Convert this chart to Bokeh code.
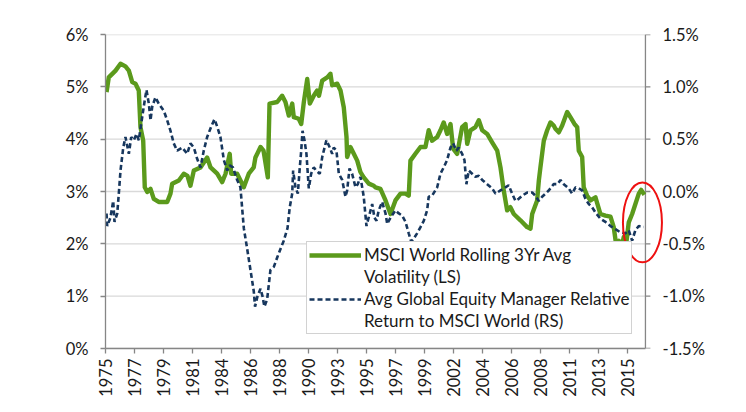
import math
from bokeh.plotting import figure
from bokeh.models import (Range1d, LinearAxis, FixedTicker, Legend, LegendItem,
                          PrintfTickFormatter, CustomJSTickFormatter)
from bokeh.embed import file_html
from bokeh.resources import INLINE

# ---------------- data ----------------
vol_years = [1975.08, 1975.25, 1975.77, 1976.15, 1976.53, 1976.79, 1977.05, 1977.30, 1977.55, 1977.68,
             1977.89, 1978.01, 1978.20, 1978.45, 1978.70, 1979.08, 1979.73, 1979.98, 1980.11, 1980.62,
             1981.00, 1981.28, 1981.51, 1981.77, 1982.28, 1982.79, 1983.05, 1983.56, 1983.94, 1984.20,
             1984.52, 1984.63, 1985.09, 1985.60, 1985.98, 1986.36, 1986.49, 1986.88, 1987.11, 1987.44,
             1987.57, 1988.16, 1988.54, 1988.79, 1989.05, 1989.31, 1989.43, 1989.81, 1990.00, 1990.20,
             1990.46, 1990.66, 1990.96, 1991.22, 1991.36, 1991.61, 1991.99, 1992.24, 1992.37, 1992.76,
             1993.01, 1993.26, 1993.47, 1993.52, 1993.77, 1994.03, 1994.29, 1994.54, 1994.79, 1995.18,
             1995.56, 1995.69, 1996.07, 1996.46, 1996.84, 1997.22, 1997.61, 1997.99, 1998.24, 1998.37,
             1998.75, 1999.14, 1999.52, 1999.77, 2000.03, 2000.42, 2000.67, 2000.92, 2001.18, 2001.44,
             2001.64, 2001.95, 2002.33, 2002.59, 2002.72, 2002.97, 2003.35, 2003.61, 2003.87, 2004.25,
             2004.63, 2005.02, 2005.27, 2005.52, 2005.78, 2006.03, 2006.29, 2006.80, 2007.31, 2007.57,
             2007.70, 2008.08, 2008.21, 2008.33, 2008.59, 2008.85, 2009.10, 2009.35, 2009.48, 2009.74,
             2010.00, 2010.38, 2010.63, 2010.94, 2011.15, 2011.27, 2011.53, 2011.65, 2011.91, 2012.17,
             2012.55, 2012.93, 2013.31, 2013.70, 2013.95, 2014.16, 2014.34, 2014.52, 2014.72, 2014.92,
             2015.10, 2015.36, 2015.61, 2015.87, 2016.05, 2016.30]
vol_values = [4.90, 5.18, 5.31, 5.44, 5.39, 5.31, 5.09, 5.06, 4.93, 4.23,
              3.97, 3.08, 2.99, 3.05, 2.86, 2.80, 2.80, 2.96, 3.15, 3.21,
              3.34, 3.30, 3.11, 3.40, 3.46, 3.65, 3.46, 3.34, 3.18, 3.34,
              3.72, 3.34, 3.34, 3.08, 3.34, 3.46, 3.65, 3.85, 3.78, 3.27,
              4.68, 4.71, 4.83, 4.71, 4.45, 4.68, 4.42, 4.39, 4.29, 4.71,
              5.15, 4.68, 4.83, 4.93, 4.83, 5.12, 5.18, 5.25, 5.03, 5.06,
              4.93, 4.61, 4.04, 3.66, 3.85, 3.72, 3.59, 3.37, 3.27, 3.15,
              3.11, 3.08, 3.05, 2.83, 2.57, 2.83, 2.96, 2.96, 2.92, 3.59,
              3.72, 3.85, 3.85, 4.17, 3.97, 4.04, 4.17, 4.32, 4.10, 4.29,
              3.82, 3.72, 4.23, 4.29, 3.91, 4.17, 4.23, 4.36, 4.17, 4.10,
              3.94, 3.78, 3.46, 3.02, 2.64, 2.70, 2.57, 2.45, 2.32, 2.29,
              2.57, 2.83, 3.21, 3.46, 3.97, 4.17, 4.32, 4.26, 4.20, 4.13,
              4.26, 4.52, 4.42, 4.29, 4.23, 3.78, 3.66, 3.08, 2.92, 2.83,
              2.89, 2.57, 2.54, 2.52, 2.32, 1.94, 2.06, 1.90, 2.13, 2.03,
              2.41, 2.57, 2.76, 2.96, 3.03, 2.94]

rel_years = [1975.08, 1975.13, 1975.38, 1975.59, 1975.69, 1975.90, 1976.02, 1976.15, 1976.36, 1976.53,
             1976.79, 1976.97, 1977.17, 1977.38, 1977.55, 1977.74, 1977.93, 1978.14, 1978.32, 1978.45,
             1978.58, 1978.83, 1979.08, 1979.47, 1979.73, 1979.98, 1980.23, 1980.49, 1980.88, 1981.26,
             1981.51, 1981.77, 1982.03, 1982.28, 1982.53, 1982.79, 1983.10, 1983.35, 1983.56, 1983.81,
             1984.07, 1984.33, 1984.52, 1984.77, 1985.09, 1985.34, 1985.60, 1985.86, 1986.11, 1986.36,
             1986.46, 1986.65, 1986.88, 1987.03, 1987.18, 1987.39, 1987.64, 1987.90, 1988.16, 1988.41,
             1988.66, 1988.95, 1989.12, 1989.31, 1989.38, 1989.56, 1989.74, 1989.89, 1990.00, 1990.10,
             1990.25, 1990.40, 1990.58, 1990.76, 1990.96, 1991.22, 1991.42, 1991.61, 1991.93, 1992.19,
             1992.37, 1992.49, 1992.70, 1992.88, 1993.14, 1993.39, 1993.52, 1993.70, 1993.90, 1994.16,
             1994.33, 1994.54, 1994.79, 1995.00, 1995.25, 1995.44, 1995.61, 1995.77, 1995.94, 1996.20,
             1996.46, 1996.59, 1996.84, 1997.22, 1997.48, 1997.74, 1997.99, 1998.24, 1998.43, 1998.62,
             1998.88, 1999.14, 1999.39, 1999.65, 1999.77, 2000.03, 2000.42, 2000.67, 2000.92, 2001.18,
             2001.44, 2001.64, 2001.90, 2002.07, 2002.33, 2002.51, 2002.66, 2002.84, 2003.10, 2003.35,
             2003.61, 2003.87, 2004.25, 2004.63, 2004.89, 2005.27, 2005.65, 2005.90, 2006.16, 2006.42,
             2006.67, 2006.93, 2007.31, 2007.70, 2007.95, 2008.20, 2008.46, 2008.72, 2008.97, 2009.35,
             2009.64, 2009.87, 2010.12, 2010.50, 2010.76, 2011.02, 2011.27, 2011.53, 2011.78, 2012.04,
             2012.29, 2012.55, 2012.93, 2013.31, 2013.70, 2014.08, 2014.46, 2014.85, 2015.10, 2015.36,
             2015.61, 2015.87, 2016.25]
rel_values = [-0.21, -0.33, -0.25, -0.09, -0.29, -0.21, -0.02, 0.20, 0.42, 0.52,
              0.36, 0.52, 0.49, 0.55, 0.49, 0.65, 0.81, 0.97, 0.84, 0.68,
              0.81, 0.90, 0.84, 0.77, 0.68, 0.58, 0.46, 0.39, 0.42, 0.36,
              0.46, 0.42, 0.31, 0.23, 0.39, 0.52, 0.62, 0.69, 0.62, 0.52,
              0.30, 0.20, 0.25, 0.23, 0.11, 0.04, -0.35, -0.55, -0.75, -0.95,
              -1.10, -1.00, -0.93, -1.00, -1.10, -1.03, -0.75, -0.72, -0.63, -0.55,
              -0.47, -0.35, -0.15, -0.02, 0.20, 0.04, -0.02, 0.23, 0.39, 0.58,
              0.49, 0.36, 0.03, 0.17, 0.23, 0.19, 0.17, 0.33, 0.49, 0.42,
              0.36, 0.42, 0.39, 0.17, 0.11, -0.05, 0.01, 0.22, 0.17, 0.04,
              0.07, 0.14, -0.05, -0.33, -0.21, -0.12, -0.25, -0.28, -0.18, -0.10,
              -0.21, -0.31, -0.25, -0.18, -0.21, -0.23, -0.29, -0.40, -0.48, -0.45,
              -0.40, -0.34, -0.28, -0.18, -0.05, -0.04, 0.04, 0.17, 0.23, 0.30,
              0.42, 0.46, 0.39, 0.42, 0.36, 0.30, 0.07, 0.20, 0.17, 0.14,
              0.15, 0.11, 0.07, 0.03, -0.02, 0.01, 0.04, 0.06, -0.02, -0.09,
              -0.07, -0.04, -0.01, -0.01, -0.04, -0.09, -0.05, -0.02, 0.01, 0.07,
              0.07, 0.11, 0.07, 0.03, -0.02, 0.04, 0.03, 0.01, -0.07, -0.12,
              -0.15, -0.20, -0.26, -0.29, -0.33, -0.36, -0.39, -0.40, -0.37, -0.47,
              -0.37, -0.33, -0.34]

x_tick_positions = [1975.0, 1977.22, 1979.44, 1981.67, 1983.89, 1986.11, 1988.33, 1990.56, 1992.78,
                    1995.0, 1997.22, 1999.44, 2001.67, 2003.89, 2006.11, 2008.33, 2010.56, 2012.78,
                    2015.0]
x_tick_labels = ["1975", "1977", "1979", "1981", "1984", "1986", "1988", "1990", "1993",
                 "1995", "1997", "1999", "2002", "2004", "2006", "2008", "2011", "2013", "2015"]
left_ticks = [0, 1, 2, 3, 4, 5, 6]
right_ticks = [-1.5, -1.0, -0.5, 0.0, 0.5, 1.0, 1.5]

legend_lines_vol = ["MSCI World Rolling 3Yr Avg", "Volatility (LS)"]
legend_lines_rel = ["Avg Global Equity Manager Relative", "Return to MSCI World (RS)"]

# plotted period; the frame runs a little further right so the highlight ellipse can
# cross the right-hand axis as in the original
x_start, x_end = 1975.0, 2016.38
x_view_end = 2018.30
right_tick_len = 0.38          # ~5 px in years

# highlight ellipse (annotation around latest values)
highlight_x, highlight_y = 2016.15, 2.41
highlight_w, highlight_h = 2.99, 1.53

# ---------------- styling ----------------
FONT = "Lato"
TXT = "#1a1a1a"
AXIS = "#868686"
GRID = "#d9d9d9"
GREEN = "#5b9a1c"
NAVY = "#17375e"

p = figure(width=740, height=404, output_backend="svg", toolbar_location=None,
           x_range=Range1d(x_start, x_view_end), y_range=Range1d(0, 6),
           min_border_left=105, min_border_right=70, min_border_top=34, min_border_bottom=56)
p.extra_y_ranges = {"rs": Range1d(-1.5, 1.5)}
p.outline_line_color = None
p.background_fill_color = "white"
p.border_fill_color = "white"
p.xgrid.visible = False
p.ygrid.visible = False

# horizontal gridlines over the plotted period
p.segment(x0=[x_start] * len(left_ticks), x1=[x_end] * len(left_ticks),
          y0=left_ticks, y1=left_ticks, line_color=GRID, line_width=1.4)

def style_axis(ax):
    ax.axis_line_color = AXIS
    ax.axis_line_width = 1.3
    ax.major_tick_line_color = AXIS
    ax.major_tick_line_width = 1.3
    ax.major_tick_in = 0
    ax.major_tick_out = 5
    ax.minor_tick_line_color = None
    ax.major_label_text_font = FONT
    ax.major_label_text_font_size = "16.5px"
    ax.major_label_text_color = TXT

# left axis
ly = p.yaxis[0]
ly.ticker = FixedTicker(ticks=left_ticks)
ly.formatter = PrintfTickFormatter(format="%d%%")
style_axis(ly)
ly.major_label_standoff = 12

# right axis: line and ticks at the end of the plotted period, labels from an axis object
p.segment(x0=[x_end], x1=[x_end], y0=[right_ticks[0]], y1=[right_ticks[-1]],
          y_range_name="rs", line_color=AXIS, line_width=1.3)
p.segment(x0=[x_end] * len(right_ticks), x1=[x_end + right_tick_len] * len(right_ticks),
          y0=right_ticks, y1=right_ticks, y_range_name="rs", line_color=AXIS, line_width=1.3)
ry = LinearAxis(y_range_name="rs", ticker=FixedTicker(ticks=right_ticks),
                formatter=PrintfTickFormatter(format="%.1f%%"))
style_axis(ry)
ry.axis_line_color = None
ry.major_tick_line_color = None
ry.major_tick_out = 0
ry.major_label_standoff = -8
p.add_layout(ry, "right")

# bottom axis
bx = p.xaxis[0]
bx.ticker = FixedTicker(ticks=x_tick_positions)
bx.bounds = (x_start, x_end)
bx.formatter = CustomJSTickFormatter(args=dict(pos=x_tick_positions, labels=x_tick_labels), code="""
let best = 0;
for (let i = 0; i < pos.length; i++) {
  if (Math.abs(pos[i] - tick) < Math.abs(pos[best] - tick)) best = i;
}
return labels[best];
""")
style_axis(bx)
bx.major_label_orientation = math.pi / 2
bx.major_label_standoff = 5

# series
g = p.line(vol_years, vol_values, line_color=GREEN, line_width=4.4, line_join="round")
b = p.line(rel_years, rel_values, y_range_name="rs", line_color=NAVY, line_width=2.6,
           line_dash="5 3")

# highlight ellipse
p.ellipse(x=[highlight_x], y=[highlight_y], width=highlight_w, height=highlight_h,
          fill_color=None, line_color="#ee1111", line_width=2)

legend = Legend(items=[LegendItem(label=legend_lines_vol[0], renderers=[g]),
                       LegendItem(label=legend_lines_vol[1], renderers=[]),
                       LegendItem(label=legend_lines_rel[0], renderers=[b]),
                       LegendItem(label=legend_lines_rel[1], renderers=[])],
                location=(201, 14))
legend.label_text_font = FONT
legend.label_text_font_size = "17px"
legend.label_text_color = TXT
legend.label_text_line_height = 0.8
legend.label_height = 18
legend.glyph_height = 18
legend.glyph_width = 52
legend.label_standoff = 3
legend.padding = 2
legend.spacing = 1
legend.margin = 0
legend.border_line_color = "#a6a6a6"
legend.border_line_width = 1.5
legend.background_fill_color = "white"
legend.background_fill_alpha = 1.0
p.add_layout(legend)

open("out.html", "w").write(file_html(p, INLINE))
